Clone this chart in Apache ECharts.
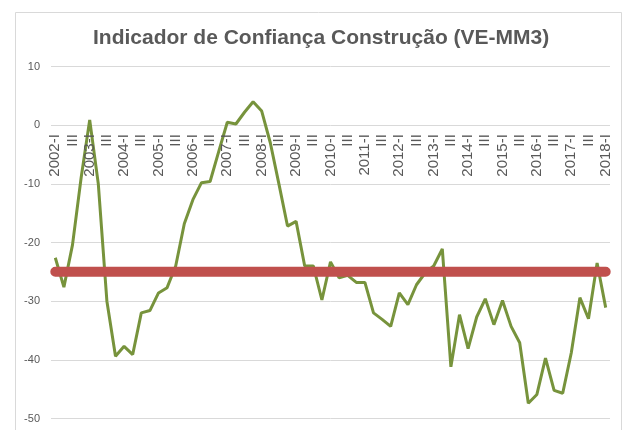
<!DOCTYPE html>
<html>
<head>
<meta charset="utf-8">
<script src="https://cdn.jsdelivr.net/npm/echarts@6/dist/echarts.min.js"></script>
<style>
	html, body { margin: 0; padding: 0; background: #fff; }
	#chart { width: 624px; height: 430px; }
</style>
</head>
<body>
<div id="chart"></div>
<script>
	// trimestres 2002-I .. 2018-I
	var years = [2002, 2003, 2004, 2005, 2006, 2007, 2008, 2009, 2010, 2011, 2012, 2013, 2014, 2015, 2016, 2017, 2018]
	var quarters = ['I', 'II', 'III', 'IV']
	var categories = []
	for(var i = 0; i < years.length; i++) {
		for(var q = 0; q < quarters.length; q++) {
			if(years[i] == 2018 && q > 0) break
			categories.push(q == 0 ? years[i] + '-I' : quarters[q])
		}
	}

	// Indicador de confiança (VE-MM3)
	var confianca = [
		-22.6, -27.6, -20.4, -9.0, 0.9, -10.0, -30.0, -39.4, -37.7, -39.1,
		-32.0, -31.6, -28.6, -27.7, -24.0, -16.8, -12.7, -9.8, -9.6, -4.5,
		0.5, 0.2, 2.2, 4.0, 2.4, -3.0, -10.0, -17.2, -16.4, -24.0,
		-24.0, -29.8, -23.3, -26.0, -25.6, -26.8, -26.8, -32.0, -33.1, -34.3,
		-28.6, -30.6, -27.2, -25.2, -24.0, -21.1, -41.2, -32.3, -38.1, -32.7,
		-29.6, -34.0, -29.9, -34.3, -37.1, -47.4, -45.9, -39.7, -45.2, -45.7,
		-38.8, -29.4, -33.0, -23.5, -31.1
	]
	var media = -25
	var mediaLine = categories.map(function() { return media })

	var yTicks = { min: -50, max: 10, interval: 10 }

	var gridTop = 66.5, gridBottom = 11.5
	var gridHeight = 430 - gridTop - gridBottom
	// o eixo das categorias cruza em zero: desloca-o para cima
	var zeroOffset = -gridHeight * (0 - yTicks.min) / (yTicks.max - yTicks.min)

	var font = 'Liberation Sans, Arial, sans-serif'
	var myChart = echarts.init(document.getElementById('chart'));
	var option = {
		backgroundColor: '#fff',
		animation: false,
		title: {
			text: 'Indicador de Confiança Construção (VE-MM3)',
			left: 88,
			top: 23,
			textStyle: {
				fontFamily: font,
				fontSize: 21,
				fontWeight: 'bold',
				color: '#595959'
			}
		},
		graphic: [{
			type: 'rect',
			shape: { x: 15.5, y: 12.5, width: 606, height: 440 },
			style: { fill: 'none', stroke: '#d9d9d9', lineWidth: 1 },
			silent: true
		}],
		grid: {
			left: 51,
			right: 14,
			top: gridTop,
			bottom: gridBottom,
			containLabel: false,
			outerBoundsMode: 'none'
		},
		xAxis: {
			type: 'category',
			data: categories,
			boundaryGap: true,
			offset: zeroOffset,
			z: 10,
			axisLine: { show: false, onZero: false },
			axisTick: { show: false },
			axisLabel: {
				rotate: 90,
				interval: 1,
				margin: 9,
				fontFamily: font,
				fontSize: 15,
				color: '#595959'
			}
		},
		yAxis: {
			type: 'value',
			min: yTicks.min,
			max: yTicks.max,
			interval: yTicks.interval,
			axisLine: { show: false },
			axisTick: { show: false },
			axisLabel: {
				margin: 11,
				fontFamily: font,
				fontSize: 11,
				color: '#595959'
			},
			splitLine: {
				lineStyle: { color: '#d9d9d9', width: 1 }
			}
		},
		series: [{
			name: 'Confiança',
			type: 'line',
			data: confianca,
			symbol: 'none',
			lineStyle: { color: '#77933c', width: 3 }
		}, {
			name: 'Média',
			type: 'line',
			data: mediaLine,
			symbol: 'none',
			lineStyle: { color: '#c0504d', width: 10, cap: 'round' }
		}]
	}
	myChart.setOption(option);

	window.onresize = function() {
		myChart.resize();
	}
</script>
</body>
</html>
